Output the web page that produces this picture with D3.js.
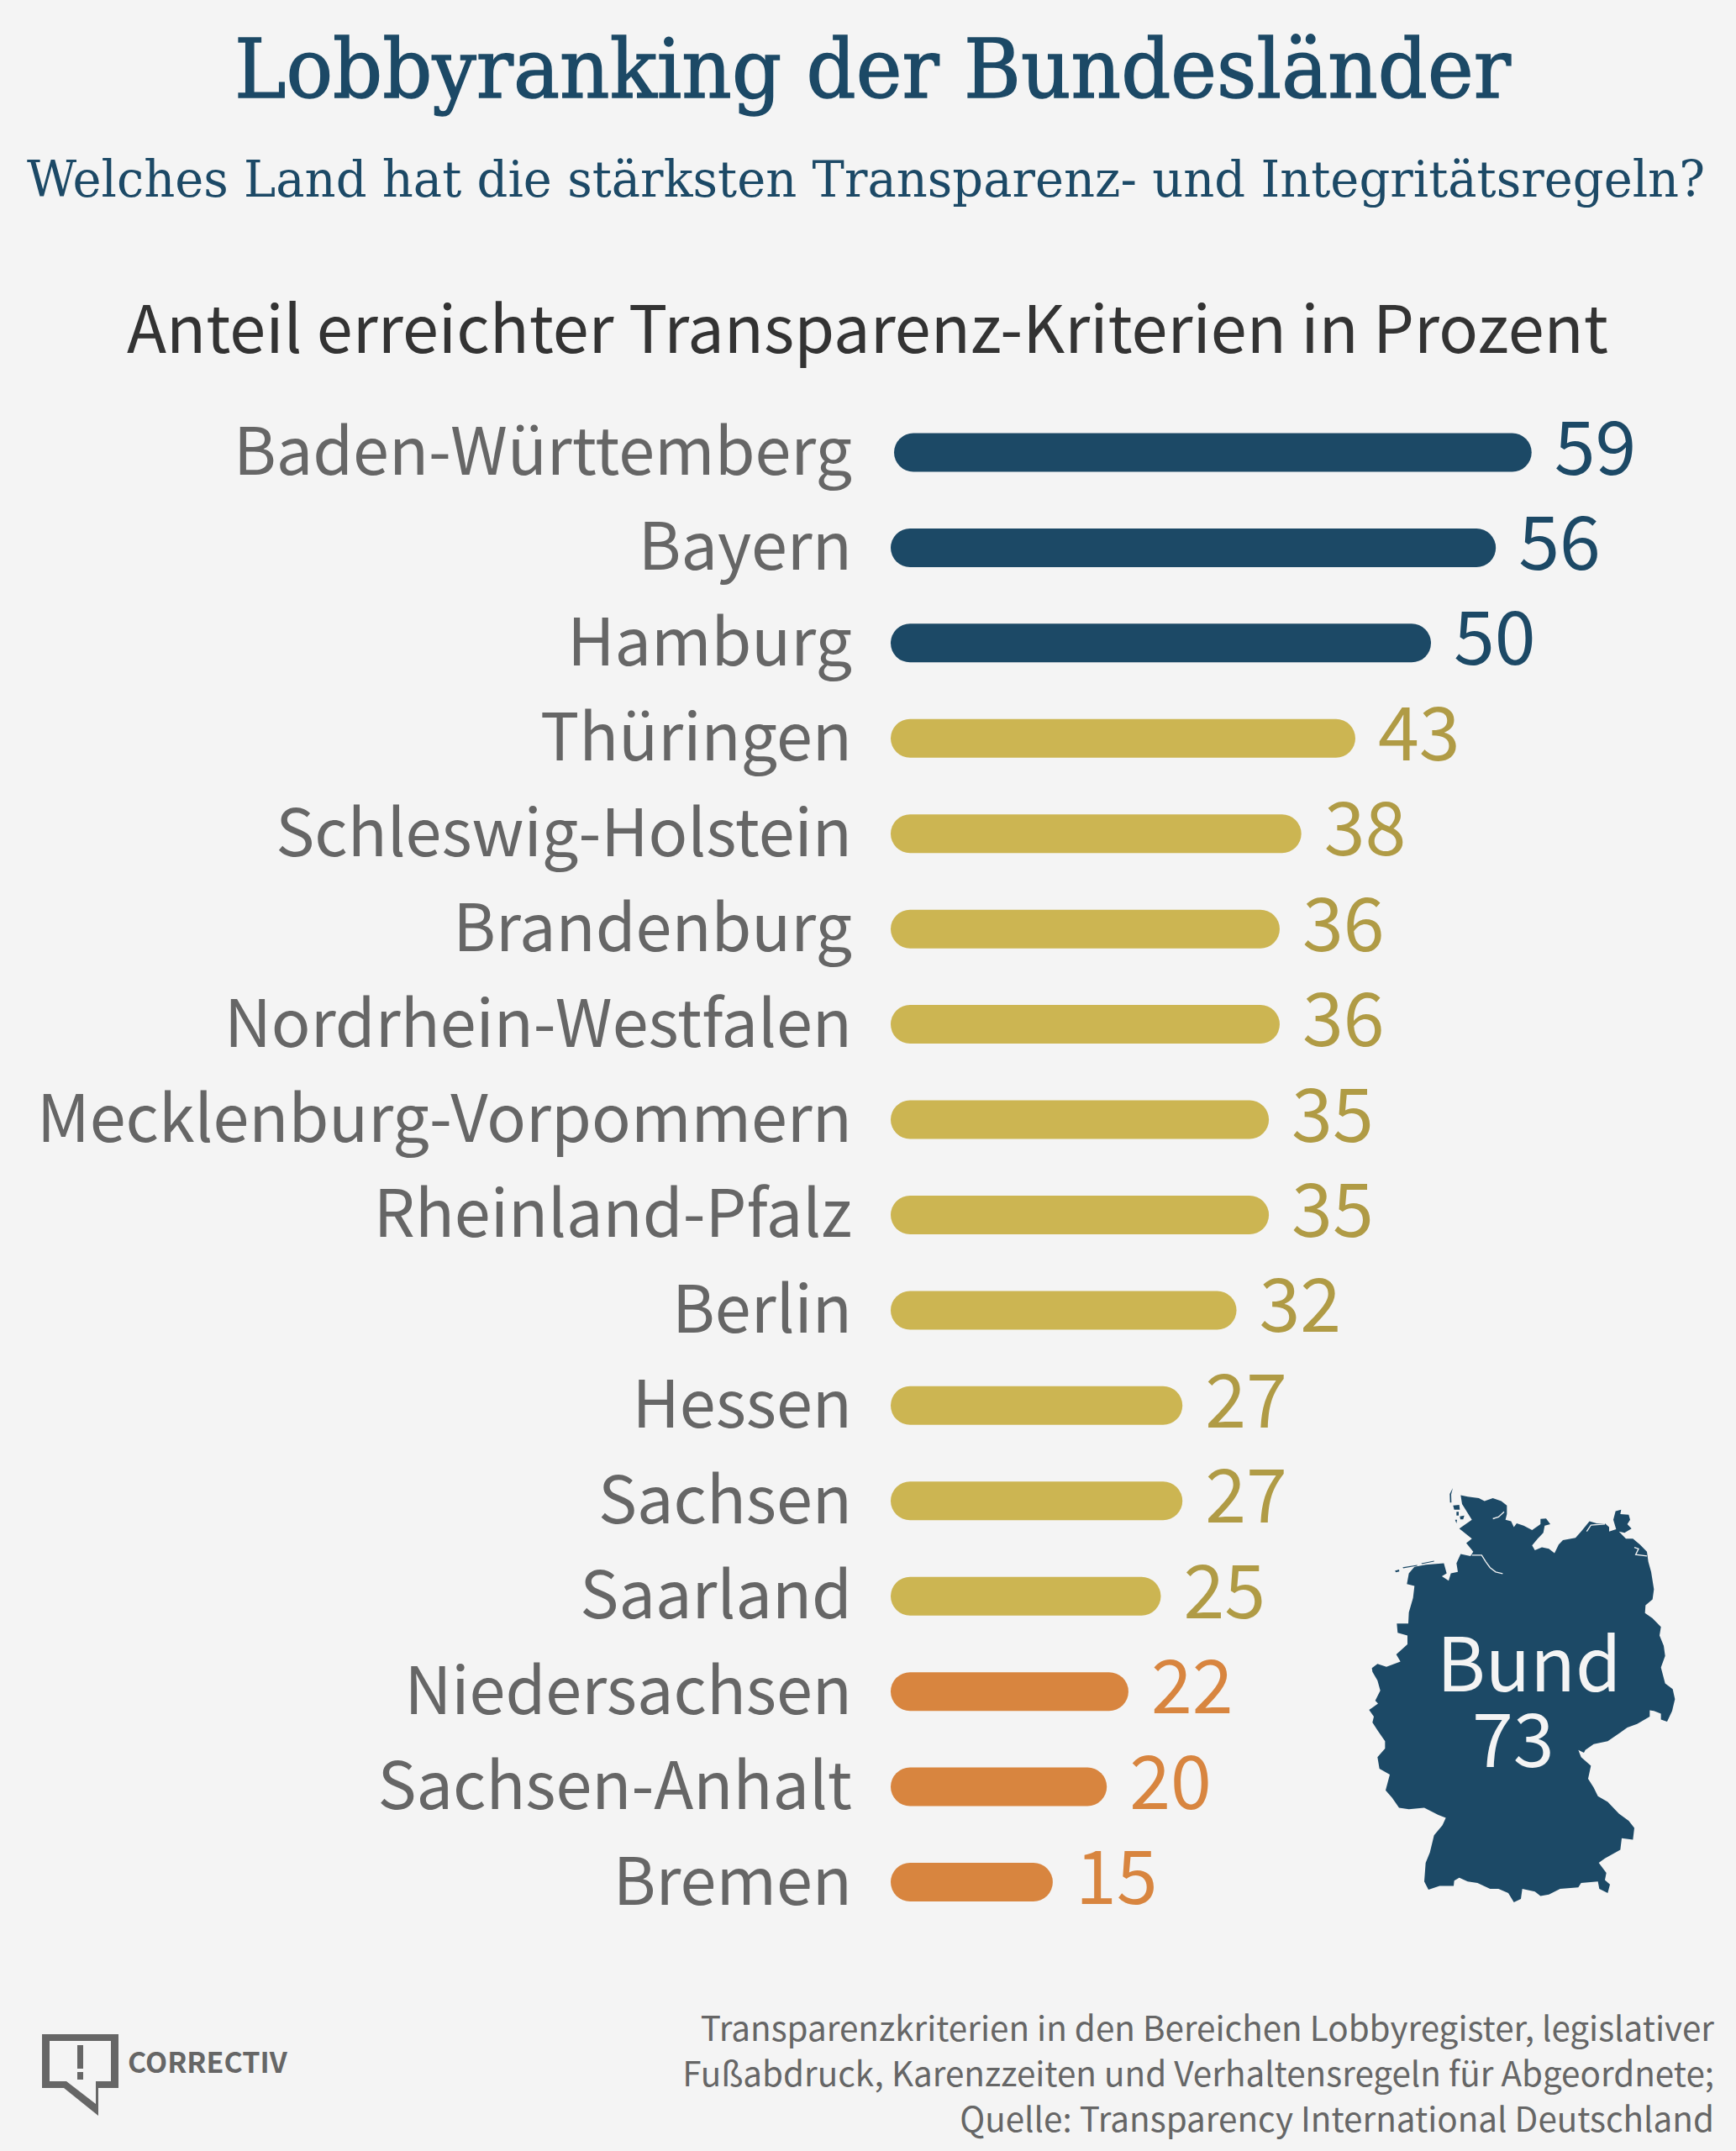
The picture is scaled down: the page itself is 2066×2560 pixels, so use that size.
<!DOCTYPE html>
<html>
<head>
<meta charset="utf-8">
<script src="https://cdn.jsdelivr.net/npm/d3@7"></script>
<style>
  html, body { margin: 0; padding: 0; background: #f4f4f4; }
  svg { display: block; }
  .sans { font-family: "Noto Sans CJK SC", "Noto Sans", sans-serif; }
  .serif { font-family: "DejaVu Serif", serif; }
</style>
</head>
<body>
<script>
const categories = ["Baden-Württemberg", "Bayern", "Hamburg", "Thüringen", "Schleswig-Holstein", "Brandenburg",
  "Nordrhein-Westfalen", "Mecklenburg-Vorpommern", "Rheinland-Pfalz", "Berlin", "Hessen", "Sachsen", "Saarland",
  "Niedersachsen", "Sachsen-Anhalt", "Bremen"];
const values = [59, 56, 50, 43, 38, 36, 36, 35, 35, 32, 27, 27, 25, 22, 20, 15];
const tiers = ["top", "top", "top", "mid", "mid", "mid", "mid", "mid", "mid", "mid", "mid", "mid", "mid", "low", "low", "low"];
const footerLines = ["Transparenzkriterien in den Bereichen Lobbyregister, legislativer",
  "Fußabdruck, Karenzzeiten und Verhaltensregeln für Abgeordnete;",
  "Quelle: Transparency International Deutschland"];

const navy = "#1c4966";
const barColor = d3.scaleOrdinal(["top", "mid", "low"], [navy, "#ccb552", "#d8853f"]);
const valueColor = d3.scaleOrdinal(["top", "mid", "low"], [navy, "#b09b45", "#d8853f"]);
const grey = "#666666";

// outline of germany, traced in pixels of a crop
const germany = [[475,115],[500,120],[540,125],[560,135],[590,125],[620,135],[640,150],[640,180],[635,200],[655,205],[665,225],[675,212],[700,220],[730,235],[745,225],[760,215],[760,197],[780,195],[795,215],[775,220],[770,245],[750,265],[730,288],[740,305],[765,295],[790,300],[810,315],[825,285],[840,270],[885,262],[905,240],[935,205],[960,212],[990,212],[1005,225],[1005,240],[1030,232],[1020,200],[1028,170],[1048,165],[1045,180],[1075,182],[1080,200],[1070,215],[1085,230],[1060,245],[1040,240],[1065,265],[1090,265],[1115,285],[1140,310],[1145,345],[1155,380],[1165,440],[1160,475],[1135,495],[1133,522],[1160,540],[1190,570],[1185,600],[1200,635],[1205,670],[1190,710],[1205,765],[1232,785],[1240,820],[1230,860],[1212,897],[1190,890],[1190,870],[1165,860],[1150,858],[1150,880],[1105,905],[1070,918],[1045,935],[1000,965],[950,975],[920,995],[915,1005],[895,995],[905,1020],[940,1050],[930,1095],[950,1125],[965,1155],[1000,1175],[1040,1215],[1075,1240],[1095,1265],[1090,1305],[1050,1300],[1045,1340],[990,1370],[968,1385],[995,1420],[990,1445],[1008,1460],[1000,1490],[970,1475],[965,1450],[905,1455],[895,1470],[830,1475],[790,1495],[760,1500],[740,1485],[695,1475],[690,1510],[665,1522],[645,1490],[610,1475],[580,1475],[535,1455],[500,1450],[470,1437],[452,1447],[450,1465],[400,1465],[360,1478],[345,1450],[350,1385],[365,1350],[380,1290],[410,1255],[422,1230],[395,1220],[345,1195],[290,1200],[255,1195],[230,1160],[207,1135],[222,1080],[185,1060],[178,1020],[205,990],[205,965],[180,930],[160,900],[165,880],[148,857],[180,835],[170,825],[188,790],[178,755],[160,725],[158,712],[178,698],[210,708],[260,690],[245,665],[285,630],[285,600],[250,590],[247,558],[288,558],[290,520],[305,470],[310,428],[283,422],[290,385],[310,362],[350,355],[415,350],[425,385],[408,395],[432,410],[440,385],[465,380],[460,350],[475,318],[510,325],[520,310],[495,280],[515,265],[470,230],[515,200],[480,145]];
const islands = [[[447,90],[436,110],[437,140],[442,140],[441,112]], [[448,150],[470,148],[472,165],[452,165]],
  [[460,172],[468,172],[468,185],[460,185]], [[472,188],[488,185],[484,198],[474,198]], [[455,200],[462,200],[460,212]],
  [[240,376],[255,372],[256,378],[244,381]], [[268,364],[320,356],[320,359],[270,367]], [[335,350],[380,341],[380,344],[336,353]]];
const rivers = [[[515,322],[550,322],[565,345],[580,365],[600,380],[625,386]], [[590,196],[610,190],[630,172]],
  [[925,240],[940,218],[990,214]], [[1095,295],[1110,300],[1100,320],[1140,325]]];

const svg = d3.select("body").append("svg").attr("width", 2066).attr("height", 2560);
svg.append("rect").attr("width", 2066).attr("height", 2560).attr("fill", "#f4f4f4");

function fitted(text, cls, x, y, size, fill, len) {
  return svg.append("text").attr("class", cls).attr("x", x).attr("y", y).attr("font-size", size).attr("fill", fill)
    .attr("textLength", len).attr("lengthAdjust", "spacingAndGlyphs").text(text);
}
fitted("Lobbyranking der Bundesländer", "serif", 279, 116, 98, navy, 1519).attr("stroke", navy).attr("stroke-width", 1.5);
fitted("Welches Land hat die stärksten Transparenz- und Integritätsregeln?", "serif", 32, 234, 60, navy, 1997);
fitted("Anteil erreichter Transparenz-Kriterien in Prozent", "sans", 151, 420, 78, "#333333", 1763);

// scales
const x = d3.scaleLinear().domain([0, 100]).range([0, 1286]);
const y = d3.scalePoint().domain(categories).range([538.5, 2240]);
const barLeft = 1060, barHeight = 46;
const rows = categories.map((c, i) => ({ name: c, value: values[i], tier: tiers[i], shift: i === 0 ? 4 : 0 }));

// category labels
const axis = svg.append("g").attr("transform", "translate(1014,0)")
  .call(d3.axisLeft(y).tickSize(0).tickPadding(0));
axis.select(".domain").remove();
axis.attr("font-family", null);
axis.selectAll("text").attr("class", "sans").attr("font-size", 77.3).attr("fill", grey).attr("dy", 26);

// bars
svg.append("g").selectAll("rect").data(rows).join("rect")
  .attr("x", d => barLeft + d.shift)
  .attr("y", d => y(d.name) - barHeight / 2)
  .attr("width", d => x(d.value))
  .attr("height", barHeight)
  .attr("rx", barHeight / 2)
  .attr("fill", d => barColor(d.tier));

// values
svg.append("g").selectAll("text").data(rows).join("text")
  .attr("class", "sans")
  .attr("x", d => barLeft + d.shift + x(d.value) + 27)
  .attr("y", d => y(d.name) + 26)
  .attr("font-size", 88)
  .attr("fill", d => valueColor(d.tier))
  .text(d => d.value);

// map
const line = d3.line();
const map = svg.append("g").attr("transform", "translate(1580,1740) scale(0.33333,0.34435)");
map.append("path").attr("d", line(germany) + "Z").attr("fill", navy);
map.selectAll(".island").data(islands).join("path").attr("class", "island").attr("d", d => line(d) + "Z").attr("fill", navy);
map.selectAll(".river").data(rivers).join("path").attr("class", "river").attr("d", line).attr("fill", "none")
  .attr("stroke", "#f4f4f4").attr("stroke-width", 4);
svg.append("text").attr("class", "sans").attr("x", 1710).attr("y", 2013).attr("font-size", 88).attr("fill", "#f4f4f4").text("Bund");
svg.append("text").attr("class", "sans").attr("x", 1752).attr("y", 2103).attr("font-size", 88).attr("fill", "#f4f4f4").text("73");

// footer
svg.append("g").selectAll("text").data(footerLines).join("text")
  .attr("class", "sans").attr("x", 2040).attr("y", (d, i) => 2429 + i * 54)
  .attr("text-anchor", "end").attr("font-size", 40.4).attr("fill", grey).text(d => d);

// logo
const logo = svg.append("g").attr("fill", grey);
logo.append("path").attr("fill-rule", "evenodd")
  .attr("d", "M50 2421H141V2485H117V2518L76 2485H50ZM59 2429V2477H79L114 2504V2477H132V2429Z");
logo.append("rect").attr("x", 92).attr("y", 2434).attr("width", 7).attr("height", 28);
logo.append("rect").attr("x", 92).attr("y", 2466).attr("width", 7).attr("height", 9);
svg.append("text").attr("class", "sans").attr("x", 152).attr("y", 2467).attr("font-size", 34).attr("font-weight", 700)
  .attr("fill", grey).text("CORRECTIV");
</script>
</body>
</html>
